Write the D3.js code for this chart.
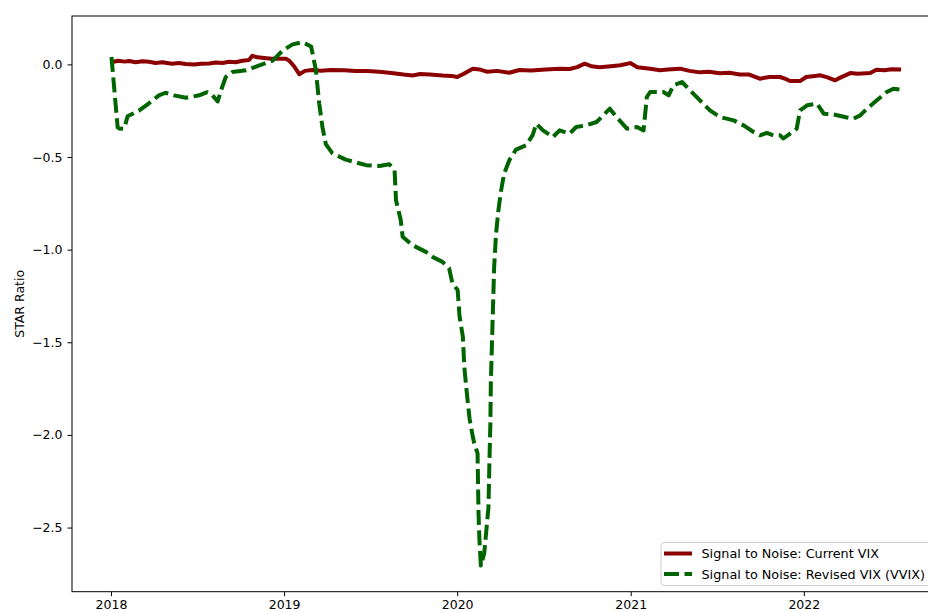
<!DOCTYPE html>
<html>
<head>
<meta charset="utf-8">
<script src="https://cdn.jsdelivr.net/npm/d3@7"></script>
<style>
  body { margin: 0; background: #fff; }
  svg { display: block; font-family: "DejaVu Sans", sans-serif; }
</style>
</head>
<body>
<svg id="chart" width="928" height="612"></svg>
<script>
// Signal to Noise: Current VIX (date, STAR ratio)
const currentDates = [
  "2018-01-02","2018-01-16","2018-01-30","2018-02-08","2018-02-22","2018-03-08","2018-03-22","2018-04-05",
  "2018-04-19","2018-05-10","2018-05-24","2018-06-08","2018-06-25","2018-07-10","2018-07-27","2018-08-10",
  "2018-08-24","2018-09-07","2018-09-21","2018-10-05","2018-10-19","2018-10-26","2018-11-06","2018-11-20",
  "2018-12-06","2018-12-22","2019-01-05","2019-01-12","2019-01-22","2019-02-02","2019-02-14","2019-03-01",
  "2019-03-20","2019-04-10","2019-05-08","2019-06-01","2019-06-25","2019-07-21","2019-08-15","2019-09-10",
  "2019-09-29","2019-10-15","2019-11-04","2019-12-01","2019-12-20","2020-01-01","2020-01-15","2020-02-03",
  "2020-02-17","2020-03-05","2020-03-25","2020-04-20","2020-05-11","2020-06-05","2020-07-05","2020-08-04",
  "2020-08-25","2020-09-10","2020-09-26","2020-10-10","2020-10-27","2020-11-20","2020-12-10","2020-12-31",
  "2021-01-15","2021-02-11","2021-03-04","2021-03-20","2021-04-15","2021-05-05","2021-05-27","2021-06-15",
  "2021-07-08","2021-07-28","2021-08-19","2021-09-08","2021-09-30","2021-10-20","2021-11-12","2021-11-25",
  "2021-12-03","2021-12-24","2022-01-06","2022-01-20","2022-02-05","2022-02-20","2022-03-08","2022-03-20",
  "2022-04-09","2022-04-25","2022-05-21","2022-06-03","2022-06-20","2022-07-05","2022-07-25"
];
const currentValues = [
  0.012, 0.020, 0.015, 0.018, 0.012, 0.017, 0.014, 0.008,
  0.012, 0.004, 0.008, 0.002, 0.000, 0.004, 0.005, 0.010,
  0.008, 0.014, 0.012, 0.020, 0.024, 0.046, 0.038, 0.035,
  0.030, 0.031, 0.030, 0.020, -0.010, -0.053, -0.035, -0.030,
  -0.034, -0.030, -0.032, -0.036, -0.035, -0.040, -0.046, -0.055,
  -0.060, -0.052, -0.055, -0.060, -0.062, -0.068, -0.050, -0.023,
  -0.027, -0.040, -0.035, -0.045, -0.030, -0.033, -0.028, -0.023,
  -0.025, -0.015, 0.004, -0.010, -0.015, -0.010, -0.005, 0.007,
  -0.015, -0.023, -0.032, -0.028, -0.023, -0.035, -0.043, -0.040,
  -0.048, -0.045, -0.054, -0.055, -0.077, -0.068, -0.068, -0.080,
  -0.090, -0.090, -0.068, -0.064, -0.059, -0.070, -0.086, -0.070,
  -0.047, -0.050, -0.047, -0.029, -0.032, -0.026, -0.028
];

// Signal to Noise: Revised VIX (VVIX)
const revisedDates = [
  "2018-01-02","2018-01-15","2018-01-19","2018-01-29","2018-02-05","2018-03-01","2018-03-22","2018-04-12",
  "2018-04-26","2018-05-14","2018-06-08","2018-07-06","2018-07-23","2018-08-03","2018-08-14","2018-08-21",
  "2018-08-31","2018-09-14","2018-10-13","2018-11-10","2018-12-08","2018-12-29","2019-01-19","2019-02-09",
  "2019-02-27","2019-03-09","2019-03-16","2019-03-23","2019-03-30","2019-04-13","2019-05-11","2019-06-23",
  "2019-07-21","2019-08-11","2019-08-22","2019-08-25","2019-09-04","2019-09-08","2019-09-29","2019-10-27",
  "2019-11-10","2019-12-01","2019-12-15","2019-12-22","2020-01-02","2020-01-06","2020-01-13","2020-01-16",
  "2020-01-20","2020-01-27","2020-02-03","2020-02-06","2020-02-13","2020-02-15","2020-02-17","2020-02-20",
  "2020-02-27","2020-03-02","2020-03-07","2020-03-09","2020-03-11","2020-03-12","2020-03-16","2020-03-19",
  "2020-03-23","2020-03-28","2020-04-02","2020-04-09","2020-04-20","2020-05-04","2020-05-25","2020-06-08",
  "2020-06-16","2020-06-30","2020-07-21","2020-08-04","2020-08-25","2020-09-08","2020-09-29","2020-10-21",
  "2020-11-18","2020-12-02","2020-12-24","2021-01-14","2021-01-28","2021-02-04","2021-02-11","2021-03-11",
  "2021-03-22","2021-04-01","2021-04-19","2021-05-06","2021-05-27","2021-06-17","2021-07-08","2021-08-06",
  "2021-08-27","2021-09-17","2021-10-01","2021-10-15","2021-10-29","2021-11-12","2021-11-19","2021-12-03",
  "2021-12-17","2021-12-24","2022-01-08","2022-01-29","2022-02-12","2022-03-05","2022-04-02","2022-04-16",
  "2022-04-30","2022-05-14","2022-06-04","2022-06-25","2022-07-09","2022-07-25"
];
const revisedValues = [
  0.040, -0.340, -0.347, -0.345, -0.280, -0.250, -0.210, -0.167,
  -0.153, -0.167, -0.180, -0.167, -0.150, -0.167, -0.200, -0.140,
  -0.068, -0.041, -0.032, -0.005, 0.020, 0.075, 0.108, 0.120,
  0.097, -0.030, -0.210, -0.340, -0.430, -0.480, -0.514, -0.544,
  -0.548, -0.539, -0.570, -0.733, -0.840, -0.930, -0.976, -1.012,
  -1.039, -1.066, -1.100, -1.182, -1.218, -1.360, -1.470, -1.630,
  -1.740, -1.910, -2.010, -2.045, -2.100, -2.420, -2.570, -2.705,
  -2.640, -2.530, -2.390, -2.150, -1.940, -1.720, -1.360, -1.093,
  -0.913, -0.787, -0.690, -0.590, -0.517, -0.460, -0.437, -0.383,
  -0.320, -0.356, -0.392, -0.356, -0.374, -0.338, -0.329, -0.311,
  -0.239, -0.284, -0.347, -0.338, -0.356, -0.176, -0.149, -0.149,
  -0.167, -0.113, -0.095, -0.140, -0.194, -0.248, -0.284, -0.302,
  -0.329, -0.365, -0.383, -0.370, -0.383, -0.383, -0.400, -0.374,
  -0.347, -0.248, -0.221, -0.212, -0.266, -0.270, -0.287, -0.293,
  -0.275, -0.239, -0.194, -0.149, -0.131, -0.136
];

const yTickValues = [-2.5, -2.0, -1.5, -1.0, -0.5, 0.0];
const seriesLabels = ["Signal to Noise: Current VIX", "Signal to Noise: Revised VIX (VVIX)"];

const parse = d3.timeParse("%Y-%m-%d");
const current = currentDates.map((d, i) => ({ date: parse(d), value: currentValues[i] }));
const revised = revisedDates.map((d, i) => ({ date: parse(d), value: revisedValues[i] }));

const margin = { left: 72, top: 16, right: 940.5, bottom: 591.7 };
const svg = d3.select("#chart");

// matplotlib-style 5% padding around the data
const all = current.concat(revised);
const [t0, t1] = d3.extent(all, d => d.date);
const tPad = (t1 - t0) * 0.05;
const [v0, v1] = d3.extent(all, d => d.value);
const vPad = (v1 - v0) * 0.05;

const x = d3.scaleTime()
  .domain([new Date(+t0 - tPad), new Date(+t1 + tPad)])
  .range([margin.left, margin.right]);
const y = d3.scaleLinear()
  .domain([v0 - vPad, v1 + vPad])
  .range([margin.bottom, margin.top]);

const line = d3.line()
  .x(d => x(d.date))
  .y(d => y(d.value));

// Lines
svg.append("path")
  .datum(current)
  .attr("fill", "none")
  .attr("stroke", "#8b0000")
  .attr("stroke-width", 4)
  .attr("stroke-linejoin", "round")
  .attr("d", line);

svg.append("path")
  .datum(revised)
  .attr("fill", "none")
  .attr("stroke", "#006400")
  .attr("stroke-width", 4)
  .attr("stroke-dasharray", "15,5.5")
  .attr("stroke-linejoin", "round")
  .attr("d", line);

// Frame
svg.append("rect")
  .attr("x", margin.left)
  .attr("y", margin.top)
  .attr("width", margin.right - margin.left)
  .attr("height", margin.bottom - margin.top)
  .attr("fill", "none")
  .attr("stroke", "#000")
  .attr("stroke-width", 1);

// Axes
const xAxis = svg.append("g")
  .attr("transform", `translate(0,${margin.bottom})`)
  .call(d3.axisBottom(x).ticks(d3.timeYear.every(1)).tickFormat(d3.timeFormat("%Y"))
    .tickSize(4.5).tickPadding(4));
const yAxis = svg.append("g")
  .attr("transform", `translate(${margin.left},0)`)
  .call(d3.axisLeft(y).tickValues(yTickValues).tickFormat(d3.format(".1f"))
    .tickSize(4.5).tickPadding(5));

[xAxis, yAxis].forEach(g => {
  g.select(".domain").remove();
  g.selectAll("line").attr("stroke", "#000");
  g.selectAll("text").attr("fill", "#000").attr("font-size", 12.5)
    .attr("font-family", "DejaVu Sans, sans-serif");
});

svg.append("text")
  .attr("transform", `translate(19,${(margin.top + margin.bottom) / 2}) rotate(-90)`)
  .attr("text-anchor", "middle")
  .attr("dominant-baseline", "central")
  .attr("font-size", 12.5)
  .text("STAR Ratio");

// Legend
const legend = svg.append("g");
legend.append("rect")
  .attr("x", 661).attr("y", 542.5)
  .attr("width", 273).attr("height", 43)
  .attr("rx", 3)
  .attr("fill", "#fff").attr("fill-opacity", 0.8)
  .attr("stroke", "#cccccc").attr("stroke-width", 1);

const legendStyles = [
  { color: "#8b0000", dash: null },
  { color: "#006400", dash: "15,5.5" }
];
seriesLabels.forEach((label, i) => {
  const cy = 553.5 + i * 20.5;
  legend.append("line")
    .attr("x1", 664).attr("x2", 692)
    .attr("y1", cy).attr("y2", cy)
    .attr("stroke", legendStyles[i].color)
    .attr("stroke-width", 4)
    .attr("stroke-dasharray", legendStyles[i].dash);
  legend.append("text")
    .attr("x", 701.5).attr("y", cy)
    .attr("dominant-baseline", "central")
    .attr("font-size", 12.8)
    .text(label);
});
</script>
</body>
</html>
